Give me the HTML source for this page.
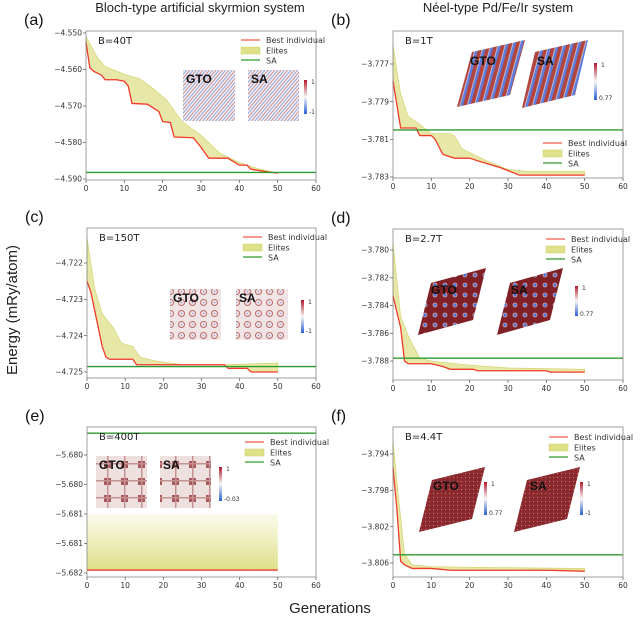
<!DOCTYPE html>
<html><head><meta charset="utf-8">
<style>
html,body{margin:0;padding:0;background:#fff;}
svg{display:block;font-family:"DejaVu Sans","Liberation Sans",sans-serif;}
.tick{font-size:7.5px;fill:#333;}
.leg{font-size:8px;fill:#333;}
.ttl{font-family:"Liberation Sans",sans-serif;font-size:13px;fill:#222;}
.plab{font-family:"Liberation Sans",sans-serif;font-size:16px;fill:#111;}
.ins{font-family:"Liberation Sans",sans-serif;font-size:12px;font-weight:bold;fill:#111;}
</style></head>
<body>
<svg id="fig" width="640" height="619" viewBox="0 0 640 619" xmlns="http://www.w3.org/2000/svg">
<defs>
<linearGradient id="cbar" x1="0" y1="0" x2="0" y2="1"><stop offset="0" stop-color="#b2182b"/><stop offset="0.5" stop-color="#f7f7f7"/><stop offset="1" stop-color="#2c5fd6"/></linearGradient>
<linearGradient id="egrad" x1="0" y1="0" x2="0" y2="1"><stop offset="0" stop-color="#fbfbee"/><stop offset="1" stop-color="#dfe08a"/></linearGradient>
<pattern id="pa" width="5" height="5" patternUnits="userSpaceOnUse" patternTransform="rotate(40)"><rect width="5" height="5" fill="#f1f1f6"/><rect width="0.9" height="5" fill="#c98080"/><rect x="2.5" width="0.9" height="5" fill="#8e9dd6"/></pattern>
<pattern id="pb" width="7" height="7" patternUnits="userSpaceOnUse" patternTransform="rotate(15)"><rect width="7" height="7" fill="#b0443f"/><rect x="3" width="2.5" height="7" fill="#5b7fe0"/><rect x="2.3" width="0.7" height="7" fill="#e8d6d6"/></pattern>
<pattern id="pc" width="11" height="11" patternUnits="userSpaceOnUse"><rect width="11" height="11" fill="#f1e4e4"/><circle cx="5.5" cy="5.5" r="3" fill="none" stroke="#bb6a68" stroke-width="1"/><circle cx="5.5" cy="5.5" r="0.9" fill="#9aa8e0"/></pattern>
<pattern id="pd" width="10" height="10" patternUnits="userSpaceOnUse"><rect width="10" height="10" fill="#7f1f26"/><circle cx="5" cy="5" r="2.4" fill="#dba4a0"/><circle cx="5" cy="5" r="1.6" fill="#4f73d8"/></pattern>
<pattern id="pe" width="17" height="17" patternUnits="userSpaceOnUse"><rect width="17" height="17" fill="#efe0e0"/><rect x="2" y="2" width="7" height="7" fill="#a8585c"/><rect x="0" y="4" width="17" height="1.5" fill="#c59294"/><rect x="5" y="0" width="1.5" height="17" fill="#c59294"/></pattern>
<pattern id="pf" width="4" height="4" patternUnits="userSpaceOnUse"><rect width="4" height="4" fill="#8a2a2e"/><rect x="1" y="1" width="1" height="1" fill="#c77"/></pattern>
</defs>
<text class="ttl" x="200" y="12" text-anchor="middle">Bloch-type artificial skyrmion system</text>
<text class="ttl" x="498" y="12" text-anchor="middle">Néel-type Pd/Fe/Ir system</text>
<text class="ttl" x="0" y="0" transform="translate(17,310) rotate(-90)" text-anchor="middle" style="font-size:15px">Energy (mRy/atom)</text>
<text class="ttl" x="330" y="613" text-anchor="middle" style="font-size:15px">Generations</text>
<g id="panels"></g>
</svg>
<script>
// ---- data ----
const xTicks = [0,10,20,30,40,50,60];
// (a)
const aGen  = [0,1,2,3,4,5,8,10,11,12,16,19,20,22,23,28,30,32,37,40,42,43,47,50];
const aBest = [-4.5525,-4.5595,-4.5605,-4.561,-4.5615,-4.5628,-4.5628,-4.5632,-4.5645,-4.5693,-4.5695,-4.5715,-4.5743,-4.5745,-4.5785,-4.5787,-4.5813,-4.5843,-4.5843,-4.5862,-4.5862,-4.5873,-4.588,-4.5884];
const aEGen = [0,3,5,10,14,17,21,25,30,35,40,45,50];
const aElite= [-4.551,-4.5568,-4.5592,-4.5613,-4.5625,-4.5648,-4.5683,-4.5742,-4.578,-4.583,-4.5855,-4.5872,-4.5884];
const aSA = -4.5882;
const aTicks = [-4.550,-4.560,-4.570,-4.580,-4.590];
// (b)
const bGen  = [0,2,6,7,10,11,13,16,20,23,28,33,50];
const bBest = [-3.7779,-3.7804,-3.7804,-3.7808,-3.7808,-3.781,-3.7818,-3.782,-3.782,-3.7822,-3.7825,-3.7829,-3.7829];
const bEGen = [0,2,4,7,10,15,16,18,25,30,35,50];
const bElite= [-3.776,-3.7786,-3.7798,-3.7802,-3.7807,-3.7807,-3.7808,-3.7815,-3.7822,-3.7826,-3.7827,-3.7827];
const bSA = -3.7805;
const bTicks = [-3.777,-3.779,-3.781,-3.783];
// (c)
const cGen  = [0,1,2,3,4,5,6,12,13,36,37,42,43,50];
const cBest = [-4.7225,-4.7228,-4.7233,-4.7238,-4.7243,-4.7246,-4.72465,-4.72465,-4.7248,-4.7248,-4.7249,-4.7249,-4.725,-4.725];
const cEGen = [0,2,4,7,9,12,14,18,25,36,50];
const cElite= [-4.7213,-4.7227,-4.7234,-4.7238,-4.7242,-4.7243,-4.7246,-4.7247,-4.7248,-4.7248,-4.72475];
const cSA = -4.72485;
const cTicks = [-4.722,-4.723,-4.724,-4.725];
// (d)
const dGen  = [0,2,3,4,10,13,15,21,22,40,41,50];
const dBest = [-3.7833,-3.7856,-3.788,-3.7882,-3.7882,-3.7884,-3.7886,-3.7886,-3.7887,-3.7887,-3.7888,-3.7888];
const dEGen = [0,2,4,7,10,20,30,50];
const dElite= [-3.7795,-3.7848,-3.7862,-3.7878,-3.788,-3.7883,-3.7885,-3.7886];
const dSA = -3.7878;
const dTicks = [-3.780,-3.782,-3.784,-3.786,-3.788];
// (e)
const eGen  = [0,50];
const eBest = [-5.68195,-5.68195];
const eEGen = [0,50];
const eElite= [-5.681,-5.681];
const eSA = -5.67963;
const eTicks = [-5.6800,-5.6805,-5.6810,-5.6815,-5.6820];
const eTickLabels = ['-5.680','-5.680','-5.681','-5.681','-5.682'];
// (f)
const fGen  = [0,1,2,3,5,10,15,40,50];
const fBest = [-3.7955,-3.8,-3.8058,-3.8062,-3.8066,-3.8066,-3.8068,-3.8068,-3.8069];
const fEGen = [0,1,2,3,5,10,25,50];
const fElite= [-3.7925,-3.797,-3.801,-3.805,-3.8062,-3.8064,-3.8065,-3.8066];
const fSA = -3.8051;
const fTicks = [-3.794,-3.798,-3.802,-3.806];

const NS='http://www.w3.org/2000/svg';
const root=document.getElementById('panels');
function mk(tag,attrs,parent){const e=document.createElementNS(NS,tag);for(const k in attrs)e.setAttribute(k,attrs[k]);(parent||root).appendChild(e);return e;}
function fmt(v){return (v<0?'\u2212':'')+Math.abs(v).toFixed(3);}

function panel(p){
  const g=mk('g',{});
  
  
  const sx=v=>p.x0+(v-0)/60*(p.x1-p.x0);
  const sy=v=>p.ty0+(v-p.tv0)/(p.tv1-p.tv0)*(p.ty1-p.ty0);
  let pts=[];
  p.eg.forEach((x,i)=>pts.push(sx(x)+','+sy(p.ev[i])));
  for(let i=p.bg.length-1;i>=0;i--)pts.push(sx(p.bg[i])+','+sy(p.bv[i]));
  const fill=mk('polygon',{points:pts.join(' '),fill:p.grad?'url(#egrad)':'#dfe08a','fill-opacity':p.grad?1:0.75,stroke:p.grad?'none':'#cfd060','stroke-width':0.6},g);
  
  
  const bl=mk('polyline',{points:p.bg.map((x,i)=>sx(x)+','+sy(p.bv[i])).join(' '),fill:'none',stroke:'#f03a2a','stroke-width':1.3},g);
  
  
  const sa=mk('line',{x1:p.x0,x2:p.x1,y1:sy(p.sa),y2:sy(p.sa),stroke:'#2e9a2e','stroke-width':1.4},g);
  
  
  p.ins(g);
  const fr=mk('rect',{x:p.x0,y:p.y0,width:p.x1-p.x0,height:p.y1-p.y0,fill:'none',stroke:'#888','stroke-width':0.8},g);
  
  
  xTicks.forEach(t=>{
    mk('line',{x1:sx(t),x2:sx(t),y1:p.y1,y2:p.y1+3,stroke:'#555','stroke-width':0.7},g);
    const tx=mk('text',{x:sx(t),y:p.y1+11,'text-anchor':'middle',class:'tick'},g);tx.textContent=t;
    
    
  });
  p.yt.forEach((t,i)=>{
    const y=sy(t);
    mk('line',{x1:p.x0-3,x2:p.x0,y1:y,y2:y,stroke:'#555','stroke-width':0.7},g);
    const tx=mk('text',{x:p.x0-4,y:y+2.7,'text-anchor':'end',class:'tick'},g);
    tx.textContent=p.yl?('\u2212'+p.yl[i].slice(1)):fmt(t);
    
    
  });
  const bt=mk('text',{x:p.x0+12,y:p.y0+13,class:'leg',style:'font-size:10px;fill:#222'},g);bt.textContent=p.B;
  
  
  const lg=mk('g',{},g);
  
  
  const lx=p.lx, ly=p.ly;
  mk('line',{x1:lx,x2:lx+19,y1:ly,y2:ly,stroke:'#f05a4a','stroke-width':1.3},lg);
  mk('rect',{x:lx,y:ly+7,width:19,height:7,fill:'#dfe08a',stroke:'#cfd060','stroke-width':0.5},lg);
  mk('line',{x1:lx,x2:lx+19,y1:ly+20,y2:ly+20,stroke:'#2e9a2e','stroke-width':1.3},lg);
  [['Best individual',0],['Elites',10.5],['SA',20.5]].forEach(([s,d])=>{
    const t=mk('text',{x:lx+25,y:ly+d+3,class:'leg'},lg);t.textContent=s;
    
    
  });
  const pl=mk('text',{x:p.x0-62,y:p.y0-6,class:'plab'},g);pl.textContent='('+p.id+')';
  
  
}

function cbar(g,x,y,h,top,bot){
  const c=mk('rect',{x:x,y:y,width:3,height:h,fill:'url(#cbar)'},g);
  
  
  const a=mk('text',{x:x+7,y:y+4,class:'leg',style:'font-size:6px'},g);a.textContent=top;
  const b=mk('text',{x:x+5,y:y+h,class:'leg',style:'font-size:6px'},g);b.textContent=bot;
}
function sq(g,x,y,w,h,fill,lab){
  const r=mk('rect',{x:x,y:y,width:w,height:h,fill:fill},g);
  
  
  const t=mk('text',{x:x+3,y:y+13,class:'ins'},g);t.textContent=lab;
}
function para(g,pts,fill,lab,tx,ty){
  const r=mk('polygon',{points:pts,fill:fill},g);
  
  
  const t=mk('text',{x:tx,y:ty,class:'ins'},g);t.textContent=lab;
}

panel({id:'a',x0:86,x1:316,y0:31,y1:180,tv0:-4.55,ty0:33,tv1:-4.59,ty1:179,bg:aGen,bv:aBest,eg:aEGen,ev:aElite,sa:aSA,yt:aTicks,B:'B=40T',lx:241,ly:40,
  ins:g=>{sq(g,183,70,52,51,'url(#pa)','GTO');sq(g,248,70,51,51,'url(#pa)','SA');cbar(g,304,80,34,'1','-1');}});
panel({id:'b',x0:393,x1:623,y0:31,y1:178,tv0:-3.777,ty0:64,tv1:-3.783,ty1:177,bg:bGen,bv:bBest,eg:bEGen,ev:bElite,sa:bSA,yt:bTicks,B:'B=1T',lx:543,ly:143,
  ins:g=>{para(g,'457,107 510,95 525,40 472,52','url(#pb)','GTO',470,65);para(g,'522,108 575,95 588,40 535,52','url(#pb)','SA',537,65);cbar(g,594,63,37,'1','0.77');}});
panel({id:'c',x0:87,x1:316,y0:228,y1:378,tv0:-4.722,ty0:263,tv1:-4.725,ty1:372,bg:cGen,bv:cBest,eg:cEGen,ev:cElite,sa:cSA,yt:cTicks,B:'B=150T',lx:243,ly:237,
  ins:g=>{sq(g,170,289,51,51,'url(#pc)','GTO');sq(g,236,289,52,51,'url(#pc)','SA');cbar(g,301,300,33,'1','-1');}});
panel({id:'d',x0:393,x1:623,y0:229,y1:380,tv0:-3.780,ty0:250,tv1:-3.788,ty1:361,bg:dGen,bv:dBest,eg:dEGen,ev:dElite,sa:dSA,yt:dTicks,B:'B=2.7T',lx:546,ly:239,
  ins:g=>{para(g,'418,335 473,320 486,268 431,283','url(#pd)','GTO',431,294);para(g,'497,335 550,320 563,268 510,283','url(#pd)','SA',511,294);cbar(g,575,286,30,'1','0.77');}});
panel({id:'e',x0:87,x1:316,y0:427,y1:577,tv0:-5.68,ty0:455,tv1:-5.682,ty1:573,bg:eGen,bv:eBest,eg:eEGen,ev:eElite,sa:eSA,yt:eTicks,yl:eTickLabels,B:'B=400T',lx:245,ly:442,grad:true,
  ins:g=>{sq(g,96,456,51,52,'url(#pe)','GTO');sq(g,160,456,51,52,'url(#pe)','SA');cbar(g,219,467,34,'1','-0.03');}});
panel({id:'f',x0:393,x1:623,y0:427,y1:577,tv0:-3.794,ty0:454,tv1:-3.806,ty1:563,bg:fGen,bv:fBest,eg:fEGen,ev:fElite,sa:fSA,yt:fTicks,B:'B=4.4T',lx:549,ly:437,
  ins:g=>{para(g,'419,532 472,519 485,467 432,480','url(#pf)','GTO',433,490);para(g,'514,532 567,519 580,467 527,480','url(#pf)','SA',530,490);cbar(g,484,482,33,'1','0.77');cbar(g,580,482,33,'1','-1');}});
</script>
</body></html>
